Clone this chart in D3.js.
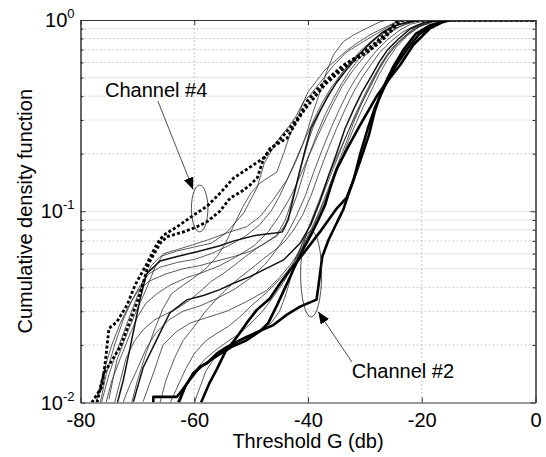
<!DOCTYPE html>
<html>
<head>
<meta charset="utf-8">
<script src="https://cdn.jsdelivr.net/npm/d3@7"></script>
<style>
  body { margin: 0; background: #fff; }
  svg { display: block; font-family: "Liberation Sans", Arial, sans-serif; }
</style>
</head>
<body>
<div id="chart"></div>
<script>
// axis ticks
const xTicks = [-80, -60, -40, -20, 0];
const yMajor = [0.01, 0.1, 1];
const yExp = ["-2", "-1", "0"];

// Channel #4 (thick dotted)
const ch4a = [[-78,0.01],[-76.2,0.0121],[-75.6,0.0167],[-75.0,0.0244],[-73.6,0.0264],[-71.8,0.0324],[-70.4,0.0411],[-68.3,0.0534],[-66.5,0.068],[-65.4,0.075],[-63,0.083],[-60.1,0.0955],[-57.8,0.106],[-55.5,0.124],[-53.1,0.149],[-50.2,0.17],[-47.9,0.189],[-45.5,0.227],[-43.2,0.272],[-41.4,0.319],[-40.2,0.374],[-38.5,0.43],[-36.1,0.505],[-33.8,0.58],[-30.9,0.656],[-27.9,0.77],[-25.6,0.9],[-24.4,0.98],[-23.5,1],[0,1]];
const ch4b = [[-77.1,0.01],[-75.9,0.0142],[-74.8,0.016],[-73.0,0.0196],[-71.2,0.027],[-69.5,0.0372],[-68.0,0.0534],[-66.0,0.068],[-64.8,0.0736],[-61.9,0.078],[-59.5,0.083],[-57.8,0.088],[-55.5,0.1],[-53.7,0.117],[-51.5,0.128],[-50.2,0.137],[-48.9,0.15],[-47.9,0.185],[-46.7,0.213],[-43.7,0.241],[-42,0.294],[-40.6,0.34],[-39,0.39],[-37,0.46],[-35,0.52],[-32.5,0.6],[-29.5,0.68],[-27,0.78],[-25,0.9],[-23.8,0.98],[-23,1],[0,1]];

// Channel #2 and other thick curves
const ch2a = [[-67.2,0.01],[-67.2,0.0107],[-63.1,0.0107],[-62.5,0.0112],[-60.75,0.0132],[-59,0.0154],[-57.8,0.016],[-56.05,0.018],[-54.3,0.0195],[-52.5,0.0208],[-50.8,0.022],[-49.0,0.0233],[-46.1,0.0254],[-43.7,0.0288],[-41.4,0.0317],[-38.5,0.0345],[-38.1,0.042],[-37.5,0.0578],[-36.4,0.0707],[-35.25,0.0832],[-33.8,0.102],[-32.6,0.13],[-30.86,0.182],[-29.3,0.25],[-28.3,0.33],[-27,0.43],[-25,0.57],[-23.2,0.7],[-21,0.85],[-18.5,0.94],[-16,0.99],[-14.5,1],[0,1]];
const ch2b = [[-58.8,0.01],[-57.4,0.0125],[-56,0.015],[-54.5,0.0185],[-52.5,0.022],[-50.8,0.026],[-49,0.0305],[-46.7,0.035],[-44.9,0.042],[-43.2,0.049],[-41.4,0.057],[-39.6,0.067],[-37.9,0.078],[-36.4,0.09],[-35,0.103],[-33.2,0.118],[-32,0.145],[-30.8,0.2],[-29.5,0.27],[-28.2,0.35],[-26.5,0.45],[-24.5,0.58],[-22.5,0.71],[-20.5,0.84],[-18,0.94],[-15.5,1],[0,1]];
const thickC = [[-62.8,0.01],[-61.6,0.0121],[-60.2,0.0142],[-58.4,0.0157],[-56,0.0175],[-53.5,0.0195],[-51,0.021],[-48.5,0.0235],[-47,0.026],[-45.5,0.032],[-44,0.04],[-42.5,0.05],[-41,0.062],[-39.5,0.075],[-38.2,0.09],[-37,0.108],[-36.1,0.132],[-35,0.165],[-33.2,0.21],[-30.9,0.28],[-27.9,0.4],[-26.1,0.476],[-23.8,0.582],[-21.5,0.74],[-18.55,0.905],[-16.5,0.97],[-15,1],[0,1]];

// medium curves
const med1 = [[-73.5,0.01],[-72.5,0.013],[-71.5,0.018],[-70.5,0.025],[-69.5,0.035],[-68.4,0.047],[-66,0.055],[-63,0.058],[-59,0.062],[-55.5,0.066],[-53,0.07],[-49,0.075],[-45.8,0.077],[-44.5,0.078],[-43.5,0.09],[-42.5,0.12],[-41.5,0.16],[-40.5,0.21],[-39.5,0.27],[-38,0.33],[-36.5,0.4],[-35,0.47],[-33,0.56],[-31,0.66],[-29,0.76],[-27,0.86],[-25,0.93],[-22,0.98],[-20,1],[0,1]];
const med2 = [[-70.7,0.0101],[-69,0.0152],[-66.6,0.0213],[-64.3,0.0294],[-61.3,0.0344],[-58.4,0.0363],[-55.5,0.0389],[-53.1,0.042],[-50.2,0.0455],[-47.3,0.0503],[-44.3,0.0556],[-41.4,0.068],[-39.5,0.085],[-38,0.11],[-36.5,0.15],[-35,0.2],[-33.5,0.27],[-32,0.34],[-30.5,0.42],[-29,0.5],[-27.5,0.6],[-26,0.7],[-24,0.8],[-22,0.9],[-19.5,0.97],[-17,1],[0,1]];

// thin curves
const thin1 = [[-75,0.0104],[-73.6,0.0167],[-71.8,0.023],[-70.1,0.0305],[-68.3,0.04],[-66.9,0.051],[-65.4,0.06],[-63,0.063],[-60.1,0.067],[-57.5,0.071],[-54.3,0.077],[-50.8,0.083],[-48.4,0.094],[-46.1,0.115],[-43.7,0.146],[-42.2,0.18],[-41,0.22],[-40,0.27],[-39.1,0.33],[-37.9,0.42],[-36.7,0.54],[-35.5,0.66],[-33.8,0.77],[-32,0.835],[-29.7,0.905],[-27.3,0.98],[-26,1],[0,1]];
const thin2 = [[-76.3,0.01],[-75,0.014],[-73.5,0.019],[-72,0.025],[-70.5,0.033],[-69,0.043],[-67.5,0.052],[-66,0.058],[-63,0.062],[-60,0.065],[-57,0.068],[-54.4,0.077],[-51.3,0.098],[-48.9,0.134],[-47.7,0.178],[-46.5,0.205],[-45.5,0.231],[-43.2,0.282],[-42,0.318],[-40.8,0.374],[-39.65,0.405],[-37.9,0.47],[-35.5,0.58],[-33.2,0.68],[-30.3,0.77],[-27.3,0.87],[-24.4,0.98],[-23.5,1],[0,1]];
const thin3 = [[-76.5,0.01],[-75.5,0.014],[-74,0.02],[-72.5,0.027],[-71,0.034],[-69.5,0.041],[-68,0.047],[-66,0.051],[-63,0.054],[-60,0.056],[-57,0.06],[-54,0.066],[-51,0.074],[-48.5,0.085],[-46.5,0.1],[-45,0.12],[-43.5,0.15],[-42,0.19],[-40.5,0.24],[-39,0.3],[-37.5,0.37],[-36,0.44],[-34,0.53],[-32,0.62],[-30,0.71],[-28,0.8],[-26,0.88],[-24,0.95],[-22,0.99],[-20.5,1],[0,1]];
const thin4 = [[-75.5,0.01],[-74.5,0.013],[-73,0.017],[-71.5,0.022],[-70,0.028],[-68.5,0.033],[-66.6,0.037],[-64.3,0.041],[-61.3,0.045],[-58.4,0.048],[-55.5,0.052],[-52.5,0.058],[-49.5,0.066],[-47,0.078],[-45,0.095],[-43,0.12],[-41.5,0.15],[-40,0.19],[-38.5,0.24],[-37,0.3],[-35.5,0.37],[-34,0.45],[-32,0.55],[-30,0.65],[-28,0.75],[-26,0.84],[-24,0.92],[-21.5,0.98],[-19.5,1],[0,1]];
const thin5 = [[-72.5,0.01],[-71.5,0.012],[-70,0.015],[-68.5,0.019],[-66.8,0.023],[-64.5,0.027],[-62,0.03],[-59,0.032],[-56,0.035],[-53,0.039],[-50,0.045],[-47.5,0.053],[-45.5,0.063],[-43.5,0.078],[-42,0.095],[-40.5,0.12],[-39,0.16],[-37.5,0.21],[-36,0.27],[-34.5,0.34],[-33,0.42],[-31.5,0.5],[-30,0.58],[-28,0.69],[-26,0.79],[-24,0.88],[-22,0.95],[-19.5,0.99],[-18,1],[0,1]];
const thin6 = [[-69,0.0101],[-67.2,0.0142],[-65.5,0.02],[-63.1,0.0235],[-60.75,0.026],[-57.8,0.0278],[-54.3,0.03],[-50.8,0.0337],[-47.3,0.0385],[-45,0.045],[-43,0.053],[-41,0.065],[-39.5,0.08],[-38,0.1],[-36.5,0.13],[-35,0.17],[-33.5,0.22],[-32,0.29],[-30.5,0.37],[-29,0.46],[-27.5,0.56],[-26,0.66],[-24,0.77],[-22,0.87],[-20,0.94],[-18,0.985],[-16.5,1],[0,1]];
const thin7 = [[-66,0.01],[-65,0.013],[-63.5,0.017],[-62,0.021],[-60,0.025],[-58,0.03],[-56,0.035],[-54,0.04],[-52,0.045],[-50,0.05],[-48,0.056],[-46,0.062],[-44,0.07],[-42.5,0.08],[-41,0.095],[-39.5,0.12],[-38,0.16],[-36.5,0.21],[-35,0.27],[-33.5,0.34],[-32,0.42],[-30.5,0.5],[-29,0.58],[-27.5,0.67],[-25.5,0.77],[-23.5,0.86],[-21,0.94],[-18.5,0.99],[-17,1],[0,1]];
const thin8 = [[-64.2,0.01],[-63,0.012],[-61.5,0.015],[-60,0.018],[-58,0.021],[-56,0.023],[-54,0.025],[-52,0.028],[-50,0.032],[-48,0.036],[-46,0.041],[-44,0.047],[-42.5,0.054],[-41,0.064],[-39.5,0.078],[-38,0.098],[-36.5,0.125],[-35,0.16],[-33.5,0.21],[-32,0.27],[-30.5,0.34],[-29,0.42],[-27.5,0.52],[-26,0.62],[-24.5,0.72],[-22.5,0.83],[-20.5,0.92],[-18,0.98],[-16,1],[0,1]];
const thin9 = [[-60,0.01],[-59,0.012],[-58,0.0145],[-56.5,0.017],[-54.5,0.019],[-52.5,0.0205],[-50.5,0.022],[-48.5,0.0235],[-46.5,0.026],[-45,0.03],[-44,0.036],[-43,0.045],[-42,0.056],[-41,0.068],[-40,0.08],[-39,0.095],[-37.5,0.12],[-36,0.155],[-34.5,0.2],[-33,0.26],[-31.5,0.33],[-30,0.41],[-28.5,0.5],[-27,0.6],[-25.5,0.7],[-23.5,0.8],[-21.5,0.9],[-19,0.97],[-17,1],[0,1]];
const thin10 = [[-77.2,0.01],[-76.5,0.0125],[-75.5,0.016],[-74.5,0.02],[-73,0.026],[-71.5,0.032],[-70,0.038],[-68,0.043],[-65,0.047],[-62,0.05],[-59,0.052],[-56,0.055],[-53,0.058],[-50,0.062],[-47.5,0.068],[-45.5,0.075],[-44,0.09],[-43,0.11],[-42,0.14],[-41,0.18],[-40,0.23],[-39,0.28],[-37.5,0.35],[-36,0.42],[-34.5,0.5],[-33,0.58],[-31,0.68],[-29,0.77],[-27,0.85],[-25,0.92],[-23,0.97],[-21,1],[0,1]];
const thin11 = [[-71,0.01],[-70,0.013],[-68.5,0.018],[-67,0.024],[-65.5,0.031],[-64,0.037],[-62,0.041],[-60,0.045],[-58,0.05],[-56,0.058],[-54.5,0.068],[-53,0.085],[-51.5,0.105],[-50,0.125],[-48.5,0.14],[-47,0.15],[-45.5,0.16],[-44.3,0.2],[-43.2,0.25],[-42,0.3],[-41,0.36],[-40,0.42],[-38.5,0.48],[-37,0.55],[-35,0.62],[-33,0.7],[-31,0.77],[-29,0.84],[-27,0.9],[-25,0.96],[-23,1],[0,1]];
const thin12 = [[-62.5,0.01],[-61.5,0.012],[-60,0.0145],[-58,0.017],[-56,0.019],[-54,0.021],[-52,0.023],[-50,0.026],[-48,0.03],[-46,0.036],[-44,0.044],[-42.5,0.054],[-41,0.068],[-39.5,0.088],[-38,0.115],[-36.5,0.15],[-35,0.19],[-33.5,0.24],[-32,0.3],[-30.5,0.37],[-29,0.45],[-27.5,0.55],[-26,0.65],[-24.5,0.74],[-22.5,0.84],[-20.5,0.92],[-18,0.98],[-15.5,1],[0,1]];
const thin13 = [[-74,0.01],[-73,0.013],[-72,0.017],[-70.5,0.021],[-69,0.024],[-67,0.027],[-65,0.029],[-63,0.031],[-61,0.034],[-59,0.038],[-57,0.043],[-55,0.047],[-53,0.052],[-51,0.058],[-49,0.064],[-47,0.07],[-45.5,0.074],[-44,0.085],[-43,0.1],[-42,0.12],[-41,0.15],[-40,0.19],[-38.5,0.25],[-37,0.32],[-35.5,0.39],[-34,0.47],[-32.5,0.55],[-31,0.63],[-29,0.72],[-27,0.81],[-25,0.89],[-23,0.95],[-20.5,0.99],[-19,1],[0,1]];

const thinSeries = [thin1, thin2, thin3, thin4, thin5, thin6, thin7, thin8, thin9, thin10, thin11, thin12, thin13];
const medSeries = [med1, med2];
const thickSeries = [ch2a, ch2b, thickC];
const dottedSeries = [ch4a, ch4b];

const W = 546, H = 457;
const margin = { top: 20, right: 10.5, bottom: 54.5, left: 80.5 };
const width = W - margin.left - margin.right;
const height = H - margin.top - margin.bottom;

const svg = d3.select("#chart").append("svg")
              .attr("width", W)
              .attr("height", H);

const x = d3.scaleLinear().domain([-80, 0]).range([0, width]);
const y = d3.scaleLog().domain([0.01, 1]).range([height, 0]);

const g = svg.append("g")
             .attr("transform", `translate(${margin.left},${margin.top})`);

g.append("clipPath").attr("id", "plot")
 .append("rect").attr("width", width).attr("height", height);

// grid (dotted, light)
const yAll = y.ticks();
const yMinor = yAll.filter(v => !yMajor.includes(v));
const gridY = yAll.filter(v => v > 0.01 && v < 1);

g.append("g")
 .selectAll("line")
 .data(gridY)
 .join("line")
 .attr("x1", 0).attr("x2", width)
 .attr("y1", d => y(d)).attr("y2", d => y(d))
 .attr("stroke", "#bdbdbd").attr("stroke-width", 0.8)
 .attr("stroke-dasharray", "2,2");

g.append("g")
 .selectAll("line")
 .data(xTicks.slice(1, -1))
 .join("line")
 .attr("x1", d => x(d)).attr("x2", d => x(d))
 .attr("y1", 0).attr("y2", height)
 .attr("stroke", "#bdbdbd").attr("stroke-width", 0.8)
 .attr("stroke-dasharray", "2,2");

const line = d3.line()
               .x(d => x(d[0]))
               .y(d => y(d[1]));

const curves = g.append("g").attr("clip-path", "url(#plot)").attr("fill", "none");

curves.selectAll(".thin")
      .data(thinSeries)
      .join("path")
      .attr("class", "thin")
      .attr("stroke", "#262626")
      .attr("stroke-width", 0.75)
      .attr("d", line);

curves.selectAll(".med")
      .data(medSeries)
      .join("path")
      .attr("class", "med")
      .attr("stroke", "#111")
      .attr("stroke-width", 1.5)
      .attr("d", line);

curves.selectAll(".thick")
      .data(thickSeries)
      .join("path")
      .attr("class", "thick")
      .attr("stroke", "#000")
      .attr("stroke-width", 2.6)
      .attr("stroke-linejoin", "round")
      .attr("d", line);

curves.selectAll(".dotted")
      .data(dottedSeries)
      .join("path")
      .attr("class", "dotted")
      .attr("stroke", "#000")
      .attr("stroke-width", 2.8)
      .attr("stroke-dasharray", "3,2.2")
      .attr("d", line);

// axes box + inward ticks
const axisColor = "#333";

const xb = g.append("g")
            .attr("transform", `translate(0,${height})`)
            .call(d3.axisBottom(x).tickValues(xTicks).tickSizeInner(-5).tickSizeOuter(0)
                    .tickPadding(10).tickFormat(d => String(d)));
const xt = g.append("g")
            .call(d3.axisTop(x).tickValues(xTicks).tickSizeInner(-5).tickSizeOuter(0).tickFormat(""));
const yl = g.append("g")
            .call(d3.axisLeft(y).tickValues(yMajor).tickSizeInner(-5).tickSizeOuter(0).tickFormat(""));
const ylm = g.append("g")
             .call(d3.axisLeft(y).tickValues(yMinor).tickSizeInner(-3).tickSizeOuter(0).tickFormat(""));
const yr = g.append("g")
            .attr("transform", `translate(${width},0)`)
            .call(d3.axisRight(y).tickValues(yMajor).tickSizeInner(-5).tickSizeOuter(0).tickFormat(""));
const yrm = g.append("g")
             .attr("transform", `translate(${width},0)`)
             .call(d3.axisRight(y).tickValues(yMinor).tickSizeInner(-3).tickSizeOuter(0).tickFormat(""));

[xb, xt, yl, ylm, yr, yrm].forEach(a => {
  a.selectAll("path, line").attr("stroke", axisColor);
});
xb.selectAll("text")
  .attr("font-size", 20)
  .attr("font-family", "Liberation Sans, Arial, sans-serif")
  .attr("fill", "#000");

// y tick labels as 10^n
const ylab = g.append("g")
              .selectAll("text")
              .data(yMajor)
              .join("text")
              .attr("x", -6)
              .attr("y", d => y(d) + 7)
              .attr("text-anchor", "end")
              .attr("font-size", 20)
              .attr("fill", "#000");
ylab.append("tspan").text("10");
ylab.append("tspan")
    .attr("dy", -9)
    .attr("font-size", 13)
    .text((d, i) => yExp[i]);

// axis titles
g.append("text")
 .attr("x", width / 2)
 .attr("y", height + 45)
 .attr("text-anchor", "middle")
 .attr("font-size", 20)
 .text("Threshold G (db)");

g.append("text")
 .attr("transform", `translate(${-49},${height / 2}) rotate(-90)`)
 .attr("text-anchor", "middle")
 .attr("font-size", 20)
 .text("Cumulative density function");

// annotations
svg.append("defs").append("marker")
   .attr("id", "head")
   .attr("viewBox", "0 0 12 10")
   .attr("refX", 12).attr("refY", 5)
   .attr("markerWidth", 12).attr("markerHeight", 10)
   .attr("markerUnits", "userSpaceOnUse")
   .attr("orient", "auto")
   .append("path")
   .attr("d", "M0,0 L12,5 L0,10 z")
   .attr("fill", "#000");

const ann = g.append("g");

function ellipse(x0, x1, yTop, yBot) {
  ann.append("ellipse")
     .attr("cx", (x(x0) + x(x1)) / 2)
     .attr("cy", (y(yTop) + y(yBot)) / 2)
     .attr("rx", (x(x1) - x(x0)) / 2)
     .attr("ry", (y(yBot) - y(yTop)) / 2)
     .attr("fill", "none")
     .attr("stroke", "#222")
     .attr("stroke-width", 0.8);
}
function arrow(from, to) {
  ann.append("line")
     .attr("x1", x(from[0])).attr("y1", y(from[1]))
     .attr("x2", x(to[0])).attr("y2", y(to[1]))
     .attr("stroke", "#222")
     .attr("stroke-width", 0.8)
     .attr("marker-end", "url(#head)");
}

ellipse(-60.5, -57.6, 0.137, 0.078);
ellipse(-41.3, -37.6, 0.079, 0.028);
arrow([-66.4, 0.377], [-60.2, 0.13]);
arrow([-32.3, 0.0163], [-38.2, 0.0298]);

ann.append("text")
   .attr("x", x(-75.7)).attr("y", y(0.397))
   .attr("font-size", 20)
   .text("Channel #4");
ann.append("text")
   .attr("x", x(-32.3)).attr("y", y(0.0134))
   .attr("font-size", 20)
   .text("Channel #2");
</script>
</body>
</html>
